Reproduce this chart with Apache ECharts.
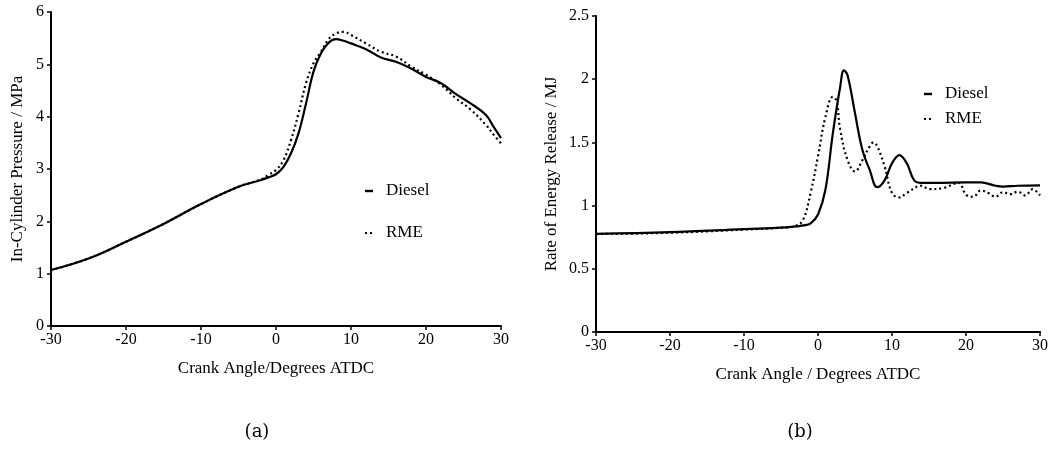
<!DOCTYPE html>
<html>
<head>
<meta charset="utf-8">
<script src="https://cdn.jsdelivr.net/npm/echarts@6/dist/echarts.min.js"></script>
<style>html,body{margin:0;padding:0;background:#fff}#c{width:1051px;height:451px}</style>
</head>
<body>
<div id="c"></div>
<script>
// Panel (a): in-cylinder pressure (MPa)
const pressAngles = [-30,-25,-20,-15,-10,-5,-2,-1,0,1,2,3,4,5,6,7,8,9,10,12,14,16,18,20,22,24,26,28,29,30];
const pressDiesel = [1.07,1.29,1.61,1.95,2.33,2.66,2.79,2.84,2.90,3.04,3.30,3.68,4.25,4.86,5.21,5.41,5.48,5.45,5.40,5.29,5.13,5.05,4.92,4.76,4.64,4.43,4.25,4.03,3.81,3.59];
const pressRME    = [1.07,1.29,1.61,1.95,2.33,2.66,2.80,2.89,2.98,3.17,3.55,4.06,4.64,5.02,5.24,5.48,5.59,5.62,5.56,5.40,5.24,5.15,4.96,4.80,4.61,4.35,4.13,3.84,3.66,3.49];

// Panel (b): rate of energy release (MJ)
const roerAnglesDiesel = [-30,-20,-10,-5,-3,-2,-1,0,1,2,3,3.5,4,5,6,7,8,9,10,11,12,13,14,16,20,22,24,25,27,30];
const roerDiesel       = [0.777,0.79,0.814,0.825,0.835,0.843,0.86,0.93,1.125,1.57,1.94,2.07,2.03,1.73,1.44,1.28,1.146,1.20,1.335,1.40,1.335,1.20,1.18,1.18,1.183,1.183,1.157,1.15,1.157,1.16];
const roerAnglesRME = [-30,-20,-10,-5,-3,-2,-1,0,1,2,2.5,3,4,5,6,7,7.5,8,9,10,11,12,14,15,17,19,20,21,22,23,24,25,26,27,28,29,30];
const roerRME       = [0.775,0.785,0.81,0.825,0.84,0.89,1.10,1.39,1.70,1.86,1.83,1.60,1.36,1.27,1.36,1.47,1.50,1.47,1.31,1.10,1.064,1.10,1.157,1.13,1.14,1.18,1.085,1.07,1.12,1.10,1.07,1.106,1.09,1.11,1.08,1.13,1.08];

const seriesNames = ['Diesel','RME'];
const titles = {
  ax: 'Crank Angle/Degrees ATDC',
  ay: 'In-Cylinder Pressure / MPa',
  bx: 'Crank Angle / Degrees ATDC',
  by: 'Rate of Energy Release / MJ'
};
const captions = ['(a)','(b)'];

const zip = (xs, ys) => xs.map((x, i) => [x, ys[i]]);
const FONT = 'Liberation Serif';
const tickTxt = {color:'#000', fontFamily: FONT, fontSize: 16};
const nameTxt = {color:'#000', fontFamily: FONT, fontSize: 17};

function xAxis(gi, name, gap) {
  return {
    gridIndex: gi, type: 'value', min: -30, max: 30, interval: 10,
    name: name, nameLocation: 'middle', nameGap: gap,
    nameTextStyle: {...nameTxt},
    axisLine: {onZero: false, lineStyle: {color:'#000', width: 2}},
    axisTick: {show: true, length: 4, lineStyle: {color:'#000', width: 1.5}},
    axisLabel: {...tickTxt, margin: 6},
    splitLine: {show: false}
  };
}
function yAxis(gi, name, gap, max, interval) {
  return {
    gridIndex: gi, type: 'value', min: 0, max: max, interval: interval,
    name: name, nameLocation: 'middle', nameGap: gap,
    nameTextStyle: {...nameTxt},
    axisLine: {show: true, onZero: false, lineStyle: {color:'#000', width: 2}},
    axisTick: {show: true, length: 4, lineStyle: {color:'#000', width: 1.5}},
    axisLabel: {...tickTxt, margin: 7},
    splitLine: {show: false}
  };
}
function line(name, data, gi, dotted) {
  return {
    name: name, type: 'line', xAxisIndex: gi, yAxisIndex: gi,
    data: data, smooth: 0.4, symbol: 'none', showSymbol: false,
    lineStyle: {color:'#000', width: 2.2, type: dotted ? [2, 3] : 'solid'},
    itemStyle: {color:'#000'},
    animation: false
  };
}
function legendItems(x, y1, y2) {
  const f = '17px "Liberation Serif"';
  return [
    {type:'line', shape:{x1:x,y1:y1,x2:x+8,y2:y1}, style:{stroke:'#000', lineWidth:2.4}},
    {type:'text', x: x+21, y: y1, style:{text: seriesNames[0], fill:'#000', font:f, verticalAlign:'middle'}},
    {type:'line', shape:{x1:x,y1:y2,x2:x+8,y2:y2}, style:{stroke:'#000', lineWidth:2.2, lineDash:[2,3]}},
    {type:'text', x: x+21, y: y2, style:{text: seriesNames[1], fill:'#000', font:f, verticalAlign:'middle'}}
  ];
}

const chart = echarts.init(document.getElementById('c'), null, {renderer: 'canvas'});
chart.setOption({
  animation: false,
  backgroundColor: '#fff',
  grid: [
    {left: 51, right: 550, top: 12, bottom: 125},
    {left: 596, right: 11, top: 16, bottom: 119}
  ],
  xAxis: [xAxis(0, titles.ax, 34), xAxis(1, titles.bx, 34)],
  yAxis: [yAxis(0, titles.ay, 25, 6, 1), yAxis(1, titles.by, 36, 2.5, 0.5)],
  graphic: [
    ...legendItems(365, 191, 233),
    ...legendItems(924, 94, 119),
    {type:'text', x: 257, y: 432, style:{text: captions[0], fill:'#000', font:'18px "DejaVu Serif"', align:'center', verticalAlign:'middle'}},
    {type:'text', x: 800, y: 432, style:{text: captions[1], fill:'#000', font:'18px "DejaVu Serif"', align:'center', verticalAlign:'middle'}}
  ],
  series: [
    line(seriesNames[0], zip(pressAngles, pressDiesel), 0, false),
    line(seriesNames[1], zip(pressAngles, pressRME), 0, true),
    line(seriesNames[0], zip(roerAnglesDiesel, roerDiesel), 1, false),
    line(seriesNames[1], zip(roerAnglesRME, roerRME), 1, true)
  ]
});
</script>
</body>
</html>
